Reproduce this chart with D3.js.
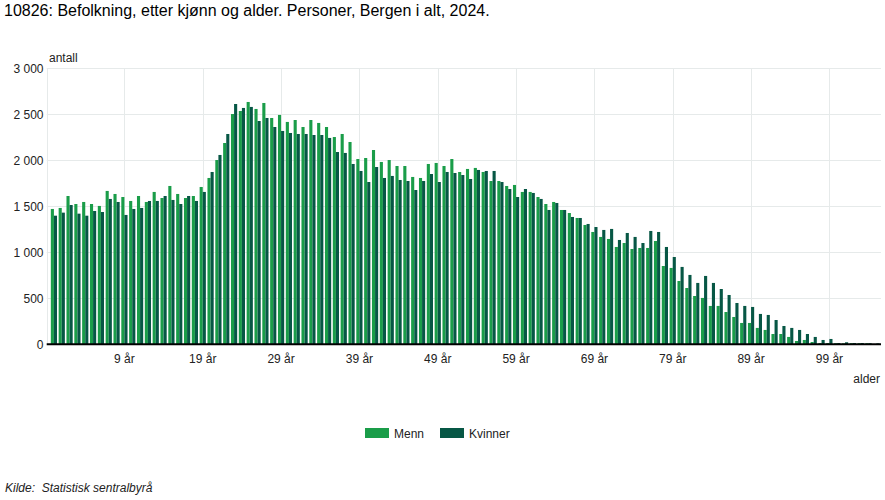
<!DOCTYPE html>
<html>
<head>
<meta charset="utf-8">
<script src="https://cdn.jsdelivr.net/npm/d3@7"></script>
<style>
  html, body { margin: 0; padding: 0; background: #fff; }
  svg { display: block; font-family: "Liberation Sans", Arial, sans-serif; }
</style>
</head>
<body>
<svg id="chart" width="885" height="500"></svg>
<script>
// ---- Data ----
const ages = d3.range(0, 106);
const categories = ages.map(a => a + " år");
const seriesNames = ["Menn", "Kvinner"];
const menn = [1471,1482,1612,1525,1547,1525,1504,1667,1634,1601,
  1558,1612,1547,1656,1590,1721,1634,1590,1612,1710,
  1808,2003,2188,2503,2536,2634,2558,2623,2460,2493,
  2417,2438,2362,2438,2406,2362,2253,2286,2199,2014,
  2025,2112,1982,2003,1938,1938,1819,1808,1960,1971,
  1938,2014,1873,1906,1917,1873,1775,1775,1721,1732,
  1656,1656,1601,1525,1547,1460,1427,1373,1297,1221,
  1167,1145,1058,1101,1036,1047,1047,1123,851,830,
  688,612,525,504,417,417,351,297,232,232,
  178,156,112,112,80,36,47,25,14,14,
  12,10,12,12,12,2];
const kvinner = [1398,1431,1514,1420,1398,1449,1438,1580,1547,1406,
  1471,1482,1558,1558,1612,1569,1525,1612,1558,1656,
  1873,2058,2286,2612,2569,2580,2427,2460,2362,2319,
  2297,2286,2286,2275,2275,2243,2090,2080,1960,1884,
  1764,1927,1808,1830,1786,1775,1677,1775,1851,1764,
  1873,1862,1840,1797,1895,1884,1884,1764,1688,1601,
  1688,1645,1580,1460,1536,1460,1384,1373,1308,1275,
  1243,1254,1134,1210,1167,1101,1232,1221,1058,949,
  841,754,667,743,667,601,536,449,417,406,
  330,319,264,199,178,156,112,80,47,58,
  14,22,14,14,12,10];
const xTickLabels = ["9 år","19 år","29 år","39 år","49 år","59 år","69 år","79 år","89 år","99 år"];
const yTicks = [0, 500, 1000, 1500, 2000, 2500, 3000];
const colors = { "Menn": "#1a9d49", "Kvinner": "#075745" };

// ---- Layout ----
const svg = d3.select("#chart");
const plotLeft = 46.7, plotRight = 881, plotTop = 68.3, plotBottom = 344.3;

const x = d3.scaleBand().domain(categories).range([50, 880.3]).padding(0);
const xs = d3.scaleBand().domain(seriesNames).range([0, x.bandwidth()]).paddingInner(0).paddingOuter(0.26);
const y = d3.scaleLinear().domain([0, 3000]).range([plotBottom, plotTop]);

const loc = d3.formatLocale({ decimal: ",", thousands: " ", grouping: [3], currency: ["", ""] });
const fmt = loc.format(",d");

// Title
svg.append("text").attr("x", 4).attr("y", 16).attr("font-size", 16).attr("fill", "#000")
  .text("10826: Befolkning, etter kjønn og alder. Personer, Bergen i alt, 2024.");

// Grid
const grid = svg.append("g");
grid.selectAll("line.h").data(yTicks.filter(d => d > 0)).join("line")
  .attr("x1", plotLeft).attr("x2", plotRight)
  .attr("y1", d => Math.round(y(d)) + 0.5).attr("y2", d => Math.round(y(d)) + 0.5)
  .attr("stroke", "#e6eaea").attr("stroke-width", 1);
grid.selectAll("line.v").data(xTickLabels).join("line")
  .attr("x1", d => Math.round(x(d) + x.bandwidth() / 2) + 0.5)
  .attr("x2", d => Math.round(x(d) + x.bandwidth() / 2) + 0.5)
  .attr("y1", plotTop).attr("y2", plotBottom)
  .attr("stroke", "#e6eaea").attr("stroke-width", 1);
grid.append("line")
  .attr("x1", Math.round(plotLeft) + 0.5).attr("x2", Math.round(plotLeft) + 0.5)
  .attr("y1", plotTop).attr("y2", plotBottom)
  .attr("stroke", "#e6eaea").attr("stroke-width", 1);

// Bars
const data = ages.map((a, i) => ({ cat: categories[i], Menn: menn[i], Kvinner: kvinner[i] }));
const groups = svg.append("g").selectAll("g").data(data).join("g")
  .attr("transform", d => `translate(${x(d.cat)},0)`);
groups.selectAll("rect").data(d => seriesNames.map(s => ({ s, v: d[s] }))).join("rect")
  .attr("x", d => xs(d.s))
  .attr("width", xs.bandwidth())
  .attr("y", d => y(d.v))
  .attr("height", d => plotBottom - y(d.v))
  .attr("fill", d => colors[d.s]);

// X axis
const xAxis = d3.axisBottom(x).tickValues(xTickLabels).tickSize(0).tickPadding(10);
const gx = svg.append("g").attr("transform", `translate(0,${plotBottom})`).call(xAxis);
gx.select(".domain").remove();
gx.selectAll("text").attr("font-size", 12).attr("fill", "#222").attr("font-family", "Liberation Sans, Arial, sans-serif");
svg.append("line").attr("x1", plotLeft).attr("x2", plotRight).attr("y1", plotBottom).attr("y2", plotBottom)
  .attr("stroke", "#000").attr("stroke-width", 2);

// Y axis
const yAxis = d3.axisLeft(y).tickValues(yTicks).tickFormat(fmt).tickSize(0).tickPadding(4);
const gy = svg.append("g").attr("transform", `translate(43.5,0)`).call(yAxis);
gy.select(".domain").remove();
gy.selectAll("text").attr("font-size", 12).attr("fill", "#222").attr("font-family", "Liberation Sans, Arial, sans-serif")
  .attr("dx", 4);

// Axis titles
svg.append("text").attr("x", 49).attr("y", 62).attr("font-size", 12).attr("fill", "#222").text("antall");
svg.append("text").attr("x", 880).attr("y", 383).attr("text-anchor", "end").attr("font-size", 12).attr("fill", "#222").text("alder");

// Legend
const legendItems = [{ s: "Menn", x: 365 }, { s: "Kvinner", x: 440 }];
const lg = svg.append("g").selectAll("g").data(legendItems).join("g")
  .attr("transform", d => `translate(${d.x},428)`);
lg.append("rect").attr("width", 24).attr("height", 10).attr("fill", d => colors[d.s]);
lg.append("text").attr("x", 29).attr("y", 10).attr("font-size", 12).attr("fill", "#222").text(d => d.s);

// Source
svg.append("text").attr("x", 5).attr("y", 492).attr("font-size", 12).attr("font-style", "italic").attr("fill", "#222")
  .style("white-space", "pre")
  .text("Kilde:  Statistisk sentralbyrå");
</script>
</body>
</html>
